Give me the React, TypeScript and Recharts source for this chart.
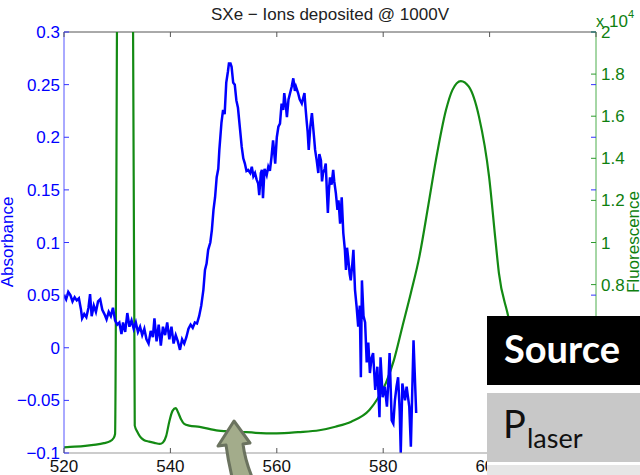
import { LineChart, Line, XAxis, YAxis, ReferenceLine } from 'recharts';

// absorbance trace (blue, left axis)
const blueWavelength = [
  520.0, 520.4, 520.8, 521.2, 521.6, 522.0, 522.4, 522.8, 523.2, 523.4, 523.8, 524.2, 524.6, 524.9,
  525.2, 525.6, 526.0, 526.4, 526.8, 527.2, 527.6, 528.0, 528.4, 528.8, 529.2, 529.6, 530.0, 530.4,
  530.8, 531.1, 531.5, 531.9, 532.3, 532.7, 533.1, 533.5, 533.9, 534.3, 534.7, 535.1, 535.5, 535.9,
  536.3, 536.7, 537.0, 537.4, 537.8, 538.2, 538.6, 539.0, 539.4, 539.8, 540.2, 540.6, 541.0, 541.4,
  541.8, 542.2, 542.6, 543.0, 543.4, 543.8, 544.2, 544.6, 545.0, 545.4, 545.8, 546.2, 546.5, 546.8,
  547.1, 547.5, 547.8, 548.1, 548.4, 548.7, 549.0, 549.2, 549.6, 549.9, 550.2, 550.5, 550.8, 551.0,
  551.3, 551.5, 551.8, 552.1, 552.4, 552.7, 553.1, 553.4, 553.7, 554.0, 554.3, 554.6, 555.0, 555.3,
  555.6, 555.9, 556.2, 556.5, 556.7, 557.0, 557.2, 557.4, 557.7, 558.1, 558.4, 558.7, 559.0, 559.3,
  559.7, 560.0, 560.3, 560.6, 560.9, 561.2, 561.4, 561.7, 561.9, 562.2, 562.5, 562.8, 563.1, 563.4,
  563.6, 564.0, 564.3, 564.7, 565.0, 565.2, 565.4, 565.6, 565.8, 566.0, 566.3, 566.6, 567.0, 567.2,
  567.5, 567.8, 568.0, 568.3, 568.5, 568.7, 569.0, 569.2, 569.4, 569.6, 569.8, 570.0, 570.3, 570.6,
  570.8, 571.1, 571.4, 571.6, 571.9, 572.2, 572.5, 572.8, 573.0, 573.2, 573.4, 573.7, 573.9, 574.2,
  574.4, 574.7, 575.0, 575.3, 575.6, 575.8, 576.0, 576.3, 576.6, 576.9, 577.2, 577.5, 577.8, 578.1,
  578.5, 578.9, 579.3, 579.5, 579.9, 580.3, 580.7, 581.0, 581.2, 581.6, 581.9, 582.2, 582.5, 582.8,
  583.1, 583.3, 583.6, 584.1, 584.4, 584.9, 585.2, 585.7, 586.2,
];
const blueAbsorbance = [
  0.050, 0.046, 0.053, 0.050, 0.044, 0.048, 0.045, 0.047, 0.036, 0.028, 0.032, 0.029, 0.038, 0.051,
  0.030, 0.040, 0.034, 0.044, 0.046, 0.036, 0.032, 0.027, 0.034, 0.030, 0.038, 0.026, 0.022, 0.024,
  0.013, 0.024, 0.015, 0.033, 0.020, 0.026, 0.018, 0.024, 0.015, 0.020, 0.012, 0.018, 0.008, 0.004,
  0.016, 0.010, 0.028, 0.006, 0.022, 0.002, 0.020, 0.012, 0.024, 0.008, 0.020, 0.004, 0.012, 0.006,
  -0.002, 0.008, 0.004, 0.010, 0.018, 0.022, 0.019, 0.024, 0.023, 0.030, 0.040, 0.055, 0.074, 0.080,
  0.093, 0.100, 0.112, 0.131, 0.143, 0.162, 0.170, 0.188, 0.214, 0.226, 0.222, 0.252, 0.262, 0.270,
  0.270, 0.267, 0.252, 0.250, 0.235, 0.228, 0.207, 0.191, 0.180, 0.175, 0.168, 0.169, 0.166, 0.172,
  0.163, 0.166, 0.160, 0.156, 0.145, 0.166, 0.169, 0.142, 0.170, 0.164, 0.172, 0.168, 0.181, 0.197,
  0.175, 0.200, 0.210, 0.213, 0.232, 0.226, 0.242, 0.230, 0.219, 0.236, 0.242, 0.248, 0.256, 0.244,
  0.248, 0.242, 0.236, 0.232, 0.238, 0.242, 0.228, 0.216, 0.205, 0.188, 0.210, 0.223, 0.200, 0.188,
  0.178, 0.166, 0.184, 0.178, 0.158, 0.166, 0.170, 0.175, 0.150, 0.128, 0.150, 0.162, 0.155, 0.169,
  0.158, 0.147, 0.131, 0.140, 0.118, 0.143, 0.109, 0.093, 0.074, 0.095, 0.086, 0.070, 0.064, 0.080,
  0.093, 0.055, 0.039, 0.020, 0.040, -0.028, 0.064, 0.030, 0.024, -0.014, 0.005, -0.024, -0.010, -0.005,
  -0.040, -0.018, -0.066, -0.009, -0.047, -0.037, -0.056, -0.030, -0.005, -0.069, -0.072, -0.050, -0.037, -0.028,
  -0.060, -0.100, -0.034, -0.050, -0.037, -0.056, -0.094, 0.007, -0.062,
];

// fluorescence trace (green, right axis)
const greenWavelength = [
  520, 522, 524, 526, 527.5, 528.5, 529.3, 529.6, 530.1, 532.9, 533.3, 533.8, 534.3, 535, 536, 537,
  538, 538.6, 539.2, 539.8, 540.4, 541, 541.5, 542, 542.6, 543.5, 545.5, 549, 553, 556, 560, 564,
  568, 571, 574, 577.4, 579, 580.5, 582, 583.6, 585.2, 586.8, 588.5, 589.9, 591.8, 593, 594.6,
  596.1, 598, 599.9, 601.1, 601.75, 603.3, 605, 607, 610,
];
const greenCounts = [
  270, 300, 340, 400, 470, 540, 700, 900, 25000, 25000, 1300, 1000, 780, 620, 540, 480,
  430, 500, 800, 1500, 2000, 2130, 1900, 1600, 1380, 1300, 1240, 1060, 1010, 960, 935, 990,
  1080, 1250, 1490, 2040, 2600, 3320, 4400, 6000, 7600, 9330, 11800, 13900, 16290, 17240, 17670,
  17400, 15980, 13130, 10120, 8550, 6710, 5000, 3500, 2000,
];

const xTicks = [520, 540, 560, 580, 600, 620];
const leftTicks = [-0.1, -0.05, 0, 0.05, 0.1, 0.15, 0.2, 0.25, 0.3];
const rightTicks = [0, 2000, 4000, 6000, 8000, 10000, 12000, 14000, 16000, 18000, 20000];

const blueData = blueWavelength.map((x, i) => ({ x, a: blueAbsorbance[i] }));
const greenData = greenWavelength.map((x, i) => ({ x, f: greenCounts[i] }));

const PLOT_TOP = 32;
const PLOT_RIGHT = 596;
const FONT = '"Liberation Sans", Arial, sans-serif';

const fmtLeft = (v: number) => (v === 0 ? '0' : (v < 0 ? '\u2212' : '') + Math.abs(v));

const BottomTick = (props: any) => {
  const { x, y, payload } = props;
  return (
    <g>
      <line x1={x} x2={x} y1={y} y2={y - 5} stroke="#555" />
      <line x1={x} x2={x} y1={PLOT_TOP} y2={PLOT_TOP + 5} stroke="#555" />
      <text x={x} y={y + 19} textAnchor="middle" fontSize={17} fontFamily={FONT} fill="#111">
        {payload.value}
      </text>
    </g>
  );
};

const LeftTick = (props: any) => {
  const { x, y, payload } = props;
  return (
    <g>
      <line x1={x} x2={x + 5} y1={y} y2={y} stroke="#3333ff" />
      <line x1={PLOT_RIGHT - 5} x2={PLOT_RIGHT} y1={y} y2={y} stroke="#3333ff" />
      <text x={x - 4} y={y} dy={6} textAnchor="end" fontSize={17} fontFamily={FONT} fill="#0000ff">
        {fmtLeft(payload.value)}
      </text>
    </g>
  );
};

const RightTick = (props: any) => {
  const { x, y, payload } = props;
  return (
    <g>
      <line x1={x - 5} x2={x} y1={y} y2={y} stroke="#2e9a2e" />
      <text x={x + 5} y={y} dy={6} textAnchor="start" fontSize={17} fontFamily={FONT} fill="#0f7f0f">
        {payload.value / 10000}
      </text>
    </g>
  );
};

export default function App() {
  return (
    <div style={{ position: 'absolute', left: 0, top: 0, width: 640, height: 475, background: '#fff' }}>
      <LineChart width={640} height={475} margin={{ top: 32, right: 0, bottom: 0, left: 0 }}>
        <XAxis
          dataKey="x"
          type="number"
          domain={[520, 620]}
          ticks={xTicks}
          allowDataOverflow
          height={22}
          tickSize={0}
          tickMargin={0}
          tick={<BottomTick />}
          stroke="#999"
        />
        <YAxis
          yAxisId="left"
          orientation="left"
          domain={[-0.1, 0.3]}
          ticks={leftTicks}
          allowDataOverflow
          width={64}
          tickSize={0}
          tickMargin={0}
          tick={<LeftTick />}
          stroke="#5555ff"
        />
        <YAxis
          yAxisId="right"
          orientation="right"
          domain={[0, 20000]}
          ticks={rightTicks}
          allowDataOverflow
          width={44}
          tickSize={0}
          tickMargin={0}
          tick={<RightTick />}
          stroke="#4cae4c"
        />
        <ReferenceLine yAxisId="left" y={0.3} stroke="#555" />
        <Line
          yAxisId="right"
          data={greenData}
          dataKey="f"
          type="monotone"
          stroke="#138a13"
          strokeWidth={2.2}
          dot={false}
          isAnimationActive={false}
        />
        <Line
          yAxisId="left"
          data={blueData}
          dataKey="a"
          type="linear"
          stroke="#0000ff"
          strokeWidth={2.5}
          dot={false}
          isAnimationActive={false}
        />
      </LineChart>
      <svg
        width={640}
        height={475}
        style={{ position: 'absolute', left: 0, top: 0, pointerEvents: 'none' }}
      >
        <text x={330} y={20} textAnchor="middle" fontSize={17} fontFamily={FONT} fill="#222">
          SXe − Ions deposited @ 1000V
        </text>
        <text
          transform="translate(13,242) rotate(-90)"
          textAnchor="middle"
          fontSize={17}
          fontFamily={FONT}
          fill="#0000ff"
        >
          Absorbance
        </text>
        <text
          transform="translate(639,242) rotate(-90)"
          textAnchor="middle"
          fontSize={17}
          fontFamily={FONT}
          fill="#0f7f0f"
        >
          Fluorescence
        </text>
        <text x={596} y={27} fontSize={16} fontFamily={FONT} fill="#0f7f0f">x</text>
        <text x={609} y={27} fontSize={17} fontFamily={FONT} fill="#0f7f0f">10</text>
        <text x={628} y={18} fontSize={11} fontFamily={FONT} fill="#0f7f0f">4</text>

        <path
          d="M234,421 L250,443 L243,444 Q245,460 252,477 L232,477 Q228,460 226,445 L218,446 Z"
          fill="#a3ac8b"
          stroke="#6b735f"
          strokeWidth={3}
          strokeLinejoin="round"
        />

        <rect x={487} y={316} width={153} height={159} fill="#fff" />
        <rect x={487} y={316} width={153} height={69} fill="#000" />
        <text x={504} y={363} fontSize={38} fontWeight={700} fontFamily="Lato, sans-serif" fill="#fff">
          Source
        </text>
        <rect x={487} y={393} width={153} height={69} fill="#c8c8c8" />
        <text x={503} y={438} fontSize={38} fontFamily="Lato, sans-serif" fill="#111">
          P
        </text>
        <text x={527} y={448} fontSize={27} fontFamily="Lato, sans-serif" fill="#111">
          laser
        </text>
        <rect x={487} y={465} width={153} height={10} fill="#e6e6e6" />
      </svg>
    </div>
  );
}
